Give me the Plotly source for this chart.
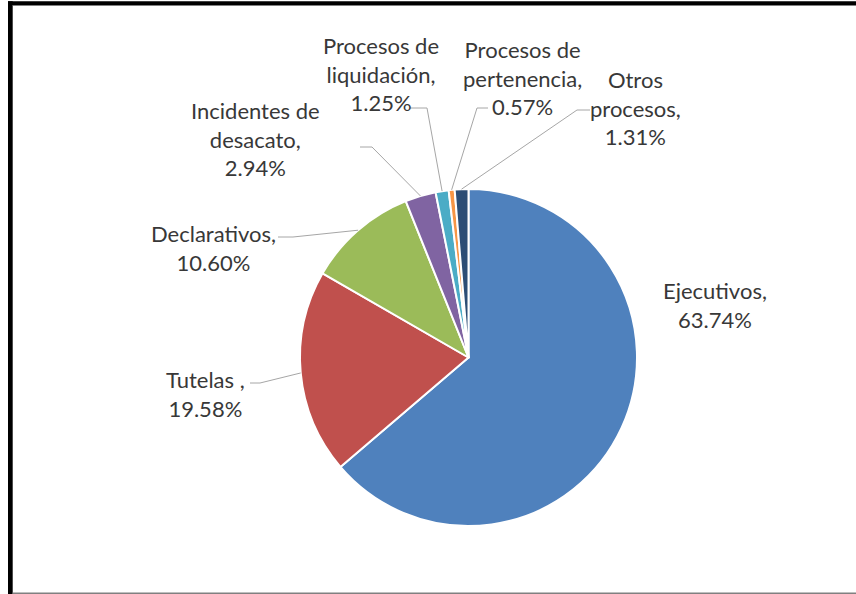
import math
import plotly.graph_objects as go

categories = ["Ejecutivos", "Tutelas ", "Declarativos", "Incidentes de desacato",
              "Procesos de liquidación", "Procesos de pertenencia", "Otros procesos"]
values = [63.74, 19.58, 10.60, 2.94, 1.25, 0.57, 1.31]
label_texts = ["Ejecutivos,<br>63.74%", "Tutelas ,<br>19.58%", "Declarativos,<br>10.60%",
               "Incidentes de<br>desacato,<br>2.94%", "Procesos de<br>liquidación,<br>1.25%",
               "Procesos de<br>pertenencia,<br>0.57%", "Otros<br>procesos,<br>1.31%"]
colors = ["#4F81BD", "#C0504D", "#9BBB59", "#8064A2", "#4BACC6", "#F79646", "#2C4D75"]

W, H = 856, 594
CX, CY, R = 468.5, 357.5, 168.5

# label centres (pixels) and leader elbows (pixels: start, elbow) ; None = no leader
label_pos = [(715, 305), (205, 394), (213, 248), (256, 139), (381, 74), (522, 78), (635, 108)]
leaders = [None, ((250, 383), (260, 383)), ((278, 237), (293, 237)), ((360, 147), (372, 147)),
           ((410, 108), (427, 108)), ((488, 108), (477, 108)), ((590, 110), (577, 110))]

def px(x):
    return x / W

def py(y):
    return 1 - y / H

fig = go.Figure(go.Pie(
    labels=categories, values=values, sort=False, direction="clockwise", rotation=0,
    marker=dict(colors=colors, line=dict(color="white", width=2)),
    textinfo="none", hoverinfo="label+percent", showlegend=False,
    domain=dict(x=[px(CX - R), px(CX + R)], y=[py(CY + R), py(CY - R)]),
))

annotations = []
shapes = []
total = sum(values)
cum = 0.0
for i, v in enumerate(values):
    mid = (cum + v / 2) / total * 2 * math.pi
    cum += v
    ex = CX + R * math.sin(mid)
    ey = CY - R * math.cos(mid)
    lx, ly = label_pos[i]
    annotations.append(dict(x=px(lx), y=py(ly), xref="paper", yref="paper", text=label_texts[i],
                            showarrow=False, xanchor="center", yanchor="middle", align="center",
                            font=dict(family="Lato", size=22, color="#383838")))
    if leaders[i] is not None:
        (sx, sy), (bx, by) = leaders[i]
        path = f"M {px(sx)},{py(sy)} L {px(bx)},{py(by)} L {px(ex)},{py(ey)}"
        shapes.append(dict(type="path", xref="paper", yref="paper", path=path,
                           line=dict(color="#A6A6A6", width=1)))

# outer frame
shapes += [
    dict(type="rect", xref="paper", yref="paper", x0=px(8), x1=px(W), y0=py(5), y1=py(1.3),
         fillcolor="black", line=dict(width=0)),
    dict(type="line", xref="paper", yref="paper", x0=px(13), x1=px(W), y0=py(5.5), y1=py(5.5),
         line=dict(color="#808080", width=1)),
    dict(type="rect", xref="paper", yref="paper", x0=px(8), x1=px(12.7), y0=py(H), y1=py(1.3),
         fillcolor="black", line=dict(width=0)),
    dict(type="rect", xref="paper", yref="paper", x0=px(12.7), x1=px(W), y0=py(H), y1=py(592.5),
         fillcolor="#808080", line=dict(width=0)),
]

fig.update_layout(width=W, height=H, margin=dict(l=0, r=0, t=0, b=0),
                  paper_bgcolor="white", plot_bgcolor="white",
                  annotations=annotations, shapes=shapes)
fig.write_html("out.html", config={"displayModeBar": False},
               post_script="document.body.style.margin='0';document.body.style.overflow='hidden';")
